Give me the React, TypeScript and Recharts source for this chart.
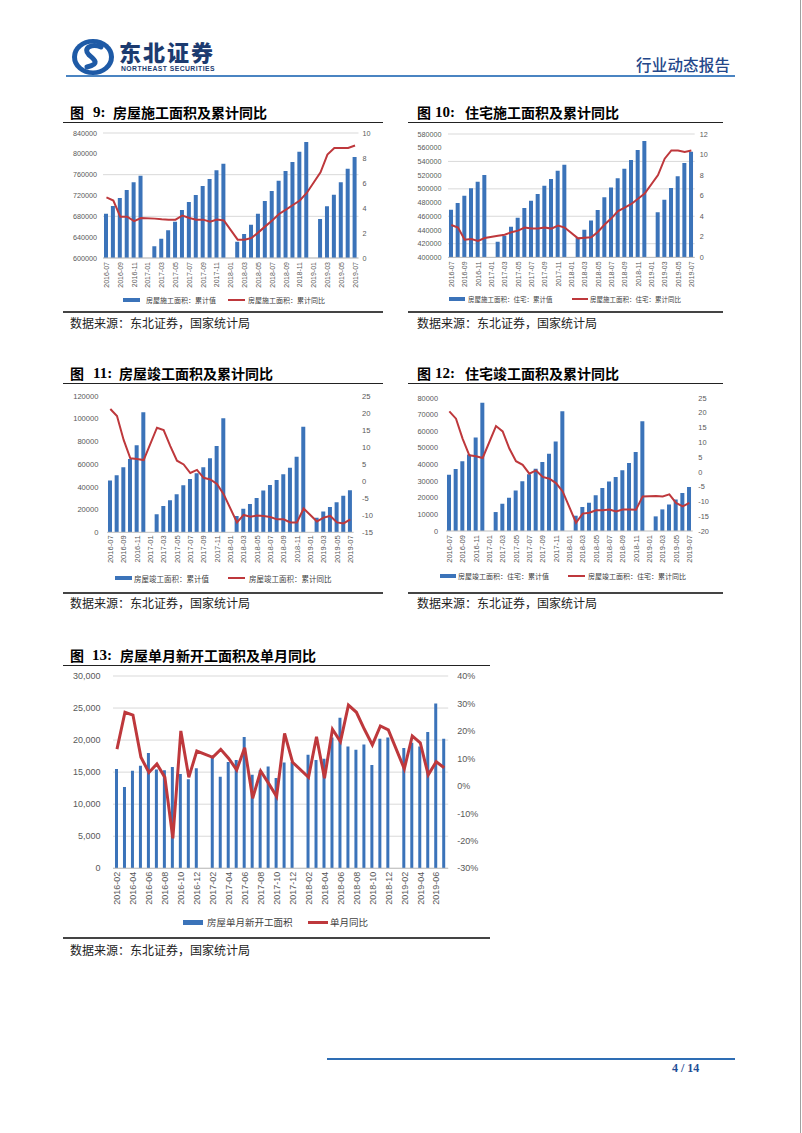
import React from 'react'
import { ComposedChart, Bar, Line, XAxis, YAxis, CartesianGrid } from 'recharts'

// month axis for the cumulative charts (fig 9-12)
const MONTHS_CUM = [
  '2016-07', '2016-08', '2016-09', '2016-10', '2016-11', '2016-12',
  '2017-01', '2017-02', '2017-03', '2017-04', '2017-05', '2017-06',
  '2017-07', '2017-08', '2017-09', '2017-10', '2017-11', '2017-12',
  '2018-01', '2018-02', '2018-03', '2018-04', '2018-05', '2018-06',
  '2018-07', '2018-08', '2018-09', '2018-10', '2018-11', '2018-12',
  '2019-01', '2019-02', '2019-03', '2019-04', '2019-05', '2019-06', '2019-07',
]

// fig 9: 房屋施工面积
const CONSTR_CUM = [
  685100, 699800, 715200, 730600, 745300, 758100,
  null, 622400, 637100, 653100, 669800, 692200,
  707500, 721000, 738200, 751700, 768300, 781100,
  null, 631400, 646100, 664000, 685100, 709400,
  728600, 748500, 767000, 784300, 804200, 822700,
  null, 674900, 699200, 721600, 745300, 771500, 793900,
]
const CONSTR_YOY = [
  4.85, 4.6, 3.3, 3.3, 2.95, 3.2,
  null, 3.15, 3.1, 3.07, 3.07, 3.4,
  3.2, 3.07, 3.07, 2.9, 3.07, 3.0,
  null, 1.47, 1.47, 1.6, 2.05, 2.53,
  3.0, 3.52, 3.87, 4.24, 4.6, 5.2,
  null, 6.85, 8.27, 8.8, 8.8, 8.8, 9.0,
]

// fig 10: 住宅施工面积
const RES_CONSTR_CUM = [
  469600, 479300, 490000, 500700, 510400, 520100,
  null, 422900, 431600, 444800, 457900, 472000,
  482700, 492400, 504600, 514300, 526500, 535200,
  null, 429000, 440400, 454000, 469100, 487600,
  501800, 515500, 529400, 542100, 556600, 569900,
  null, 465700, 484200, 501200, 518200, 537700, 554200,
]
const RES_CONSTR_YOY = [
  3.15, 2.9, 1.72, 1.78, 1.6, 1.88,
  null, 2.1, 2.2, 2.45, 2.6, 2.9,
  2.8, 2.8, 2.9, 2.8, 3.1, 2.9,
  null, 1.85, 1.9, 1.95, 2.5, 3.2,
  3.8, 4.5, 4.85, 5.2, 5.7, 6.2,
  null, 8.0, 9.6, 10.4, 10.4, 10.25, 10.4,
]

// fig 11: 房屋竣工面积
const COMPL_CUM = [
  45500, 50200, 57200, 64600, 76600, 105600,
  null, 15800, 23200, 28200, 33500, 41400,
  46900, 52000, 57200, 65100, 76000, 100400,
  null, 14400, 20800, 24900, 30200, 36700,
  41700, 46100, 51100, 56900, 66600, 93000,
  null, 12800, 18400, 22300, 26500, 32100, 37100,
]
const COMPL_YOY = [
  21.2, 19.1, 12.1, 6.7, 6.5, 6.2,
  null, 15.7, 15.0, 10.3, 6.0, 4.9,
  2.4, 3.3, 1.0, 0.5, -0.8, -3.8,
  null, -12.1, -9.9, -10.4, -10.1, -10.2,
  -10.5, -11.2, -11.2, -12.1, -12.1, -8.0,
  null, -11.8, -10.7, -10.2, -12.1, -12.4, -11.2,
]

// fig 12: 住宅竣工面积
const RES_COMPL_CUM = [
  33900, 37300, 41900, 46000, 56300, 77200,
  null, 11400, 16400, 20000, 24300, 29900,
  34100, 37500, 41500, 46500, 53900, 72000,
  null, 9200, 14400, 17000, 21500, 25900,
  29700, 32500, 36500, 40900, 47500, 66000,
  null, 8800, 13000, 16000, 19000, 22900, 26500,
]
const RES_COMPL_YOY = [
  20.5, 18.0, 11.2, 5.6, 5.3, 4.7,
  null, 15.5, 13.7, 7.9, 3.6, 2.4,
  -0.6, 0.5, -1.7, -2.3, -3.8, -6.6,
  null, -17.2, -14.1, -13.8, -13.0, -13.0,
  -12.7, -13.4, -12.7, -12.7, -12.8, -8.3,
  null, -8.2, -8.3, -7.6, -10.5, -11.7, -10.5,
]

// fig 13: monthly new starts
const MONTHS_NEW = [
  '2016-02', '2016-03', '2016-04', '2016-05', '2016-06', '2016-07', '2016-08',
  '2016-09', '2016-10', '2016-11', '2016-12',
  '2017-01', '2017-02', '2017-03', '2017-04', '2017-05', '2017-06', '2017-07',
  '2017-08', '2017-09', '2017-10', '2017-11', '2017-12',
  '2018-01', '2018-02', '2018-03', '2018-04', '2018-05', '2018-06', '2018-07',
  '2018-08', '2018-09', '2018-10', '2018-11', '2018-12',
  '2019-01', '2019-02', '2019-03', '2019-04', '2019-05', '2019-06', '2019-07',
]
const NEW_START = [
  15500, 12700, 15200, 16000, 18000, 15400, 15300, 15800, 14700, 13900, 15600,
  null, 17300, 14300, 16600, 16900, 20500, 14600, 15300, 15900, 14100, 16500, 16600,
  null, 17700, 16900, 17100, 20400, 23500, 19000, 18500, 19300, 16100, 20200, 20400,
  null, 18750, 19600, 19000, 21250, 25700, 20200,
]
const NEW_START_YOY = [
  13.4, 26.8, 25.8, 10.4, 4.9, 8.0, 3.1, -19.1, 20.0, 3.1, 12.7,
  null, 10.4, 13.3, 10.0, 5.8, 13.9, -4.5, 5.4, 0.9, -3.9, 19.1, 8.6,
  null, 3.1, 17.9, 2.8, 20.6, 16.1, 29.4, 26.8, 20.6, 14.9, 21.8, 20.4,
  null, 6.2, 18.2, 15.7, 4.0, 8.8, 6.6,
]

const BLUE = '#3B73B9'
const RED = '#BE383C'
const TXT = '#595959'
const CJK = '"Noto Sans CJK SC", "Noto Sans", sans-serif'
const NUM = '"Liberation Sans", Arial, sans-serif'
const SERIF = '"Liberation Serif", "DejaVu Serif", serif'

type Plot = { x0: number; x1: number; y0: number; y1: number }

function RotTick(props: any) {
  const { x, y, payload, fs } = props
  return (
    <g transform={`translate(${x},${y})`}>
      <text x={0} y={0} dy={fs * 0.36} textAnchor="end" transform="rotate(-90)" fontSize={fs} fill={TXT} fontFamily={NUM}>
        {payload.value}
      </text>
    </g>
  )
}

interface PanelProps {
  plot: Plot
  cats: string[]
  bars: (number | null)[]
  line: (number | null)[]
  leftDomain: [number, number]
  leftTicks: number[]
  rightDomain: [number, number]
  rightTicks: number[]
  leftFmt?: (v: number) => string
  rightFmt?: (v: number) => string
  grid: boolean
  barSize: number
  lineWidth: number
  fs: number
  xfs: number
  lGap: number
  rGap: number
  xGap: number
}

function Panel(p: PanelProps) {
  const LW = 60
  const RW = 50
  const TOP = 10
  const XH = 50
  const data = p.cats.map((c, i) => ({ month: c, bar: p.bars[i], yoy: p.line[i] }))
  const width = p.plot.x1 - p.plot.x0 + LW + RW
  const height = p.plot.y1 - p.plot.y0 + TOP + XH
  return (
    <div style={{ position: 'absolute', left: p.plot.x0 - LW, top: p.plot.y0 - TOP }}>
      <ComposedChart width={width} height={height} data={data} margin={{ top: TOP, right: 0, bottom: 0, left: 0 }}>
        {p.grid && <CartesianGrid yAxisId="left" vertical={false} stroke="#D9D9D9" />}
        <XAxis
          dataKey="month"
          interval={1}
          tickLine={false}
          tickSize={0}
          tickMargin={p.xGap}
          height={XH}
          axisLine={{ stroke: '#BFBFBF' }}
          tick={(t: any) => <RotTick {...t} fs={p.xfs} />}
        />
        <YAxis
          yAxisId="left"
          orientation="left"
          width={LW}
          domain={p.leftDomain}
          ticks={p.leftTicks}
          allowDataOverflow
          tickFormatter={p.leftFmt}
          axisLine={false}
          tickLine={false}
          tickSize={p.lGap}
          tickMargin={0}
          tick={{ fontSize: p.fs, fill: TXT, fontFamily: NUM }}
        />
        <YAxis
          yAxisId="right"
          orientation="right"
          width={RW}
          domain={p.rightDomain}
          ticks={p.rightTicks}
          allowDataOverflow
          tickFormatter={p.rightFmt}
          axisLine={false}
          tickLine={false}
          tickSize={p.rGap}
          tickMargin={0}
          tick={{ fontSize: p.fs, fill: TXT, fontFamily: NUM, textAnchor: 'start' }}
        />
        <Bar yAxisId="left" dataKey="bar" fill={BLUE} barSize={p.barSize} isAnimationActive={false} />
        <Line
          yAxisId="right"
          dataKey="yoy"
          type="linear"
          stroke={RED}
          strokeWidth={p.lineWidth}
          dot={false}
          activeDot={false}
          connectNulls
          isAnimationActive={false}
        />
      </ComposedChart>
    </div>
  )
}

// figure title: "图", number and caption placed separately to keep the wide spacing of the original
function Title({ x, y, num, numDx, textDx, text }: { x: number; y: number; num: string; numDx: number; textDx: number; text: string }) {
  const base: React.CSSProperties = {
    position: 'absolute', top: y - 10, height: 20, lineHeight: '20px', whiteSpace: 'pre',
    fontWeight: 700, fontSize: 14, color: '#000',
  }
  return (
    <>
      <div style={{ ...base, left: x, fontFamily: CJK }}>图</div>
      <div style={{ ...base, left: x + numDx, fontFamily: SERIF, fontSize: 15 }}>{`${num}:`}</div>
      <div style={{ ...base, left: x + textDx, fontFamily: CJK }}>{text}</div>
    </>
  )
}

function HLine({ x0, x1, y, w, color }: { x0: number; x1: number; y: number; w: number; color: string }) {
  return <div style={{ position: 'absolute', left: x0, top: y - w / 2, width: x1 - x0, height: w, background: color }} />
}

function Source({ x, y }: { x: number; y: number }) {
  return (
    <div style={{ position: 'absolute', left: x, top: y - 9, height: 18, lineHeight: '18px', fontFamily: CJK, fontSize: 12, color: '#222', whiteSpace: 'pre' }}>
      数据来源：东北证券，国家统计局
    </div>
  )
}

interface LegendItem { kind: 'bar' | 'line'; sx: number; sw: number; tx: number; label: string }

function Legend2({ y, fs, items, thick }: { y: number; fs: number; items: LegendItem[]; thick: [number, number] }) {
  return (
    <>
      {items.map((it) => (
        <React.Fragment key={it.label}>
          <div
            style={{
              position: 'absolute', left: it.sx, width: it.sw,
              top: y - (it.kind === 'bar' ? thick[0] : thick[1]) / 2,
              height: it.kind === 'bar' ? thick[0] : thick[1],
              background: it.kind === 'bar' ? BLUE : RED,
            }}
          />
          <div
            style={{
              position: 'absolute', left: it.tx, top: y - fs, height: fs * 2, lineHeight: `${fs * 2}px`,
              fontFamily: CJK, fontSize: fs, color: '#404040', whiteSpace: 'pre',
            }}
          >
            {it.label}
          </div>
        </React.Fragment>
      ))}
    </>
  )
}

function Logo() {
  return (
    <svg style={{ position: 'absolute', left: 70, top: 37 }} width={46} height={40} viewBox="0 0 46 40">
      <ellipse cx={23} cy={20} rx={21} ry={18} fill="#1E5AA6" />
      <ellipse cx={23} cy={20} rx={16} ry={13.5} fill="#fff" />
      <path d="M31 10 C 22 6, 12 11, 19 18 C 25 23, 30 27, 17 30" stroke="#1E5AA6" strokeWidth={5} fill="none" strokeLinecap="round" />
    </svg>
  )
}

const range = (a: number, b: number, s: number) => {
  const out: number[] = []
  for (let v = a; v <= b + 1e-9; v += s) out.push(v)
  return out
}

export default function App() {
  return (
    <div style={{ position: 'absolute', left: 0, top: 0, width: 802, height: 1133, background: '#fff', overflow: 'hidden' }}>
      {/* header */}
      <Logo />
      <div style={{ position: 'absolute', left: 119, top: 40, fontFamily: CJK, fontWeight: 900, fontSize: 22, lineHeight: '22px', letterSpacing: 2, color: '#1C3B70' }}>
        东北证券
      </div>
      <div style={{ position: 'absolute', left: 121, top: 65, fontFamily: NUM, fontWeight: 700, fontSize: 6.8, lineHeight: '8px', letterSpacing: 0.45, color: '#1C3B70' }}>
        NORTHEAST SECURITIES
      </div>
      <div style={{ position: 'absolute', left: 636, top: 54, fontFamily: CJK, fontWeight: 500, fontSize: 15.5, lineHeight: '20px', color: '#24478A', letterSpacing: 0.2 }}>
        行业动态报告
      </div>
      <HLine x0={66} x1={735} y={75.5} w={2} color="#4A84C2" />
      <div style={{ position: 'absolute', left: 800, top: 0, width: 1, height: 1133, background: '#A0A0A0' }} />

      {/* fig 9 */}
      <Title x={70} y={112} num="9" numDx={23} textDx={43} text="房屋施工面积及累计同比" />
      <HLine x0={63} x1={383} y={122.7} w={1.5} color="#222" />
      <Panel
        plot={{ x0: 103, x1: 358.5, y0: 133, y1: 258 }}
        cats={MONTHS_CUM} bars={CONSTR_CUM} line={CONSTR_YOY}
        leftDomain={[600000, 840000]} leftTicks={range(600000, 840000, 40000)}
        rightDomain={[0, 10]} rightTicks={range(0, 10, 1)}
        grid barSize={4} lineWidth={2} fs={7.2} xfs={7} lGap={6} rGap={4} xGap={4}
      />
      <Legend2
        y={300} fs={7} thick={[4, 2]}
        items={[
          { kind: 'bar', sx: 123, sw: 17, tx: 146, label: '房屋施工面积：累计值' },
          { kind: 'line', sx: 228, sw: 17, tx: 248, label: '房屋施工面积：累计同比' },
        ]}
      />
      <HLine x0={63} x1={383} y={312} w={1.2} color="#444" />
      <Source x={70} y={323} />

      {/* fig 10 */}
      <Title x={417} y={112} num="10" numDx={18} textDx={48} text="住宅施工面积及累计同比" />
      <HLine x0={408} x1={723} y={122.7} w={1.5} color="#222" />
      <Panel
        plot={{ x0: 448.3, x1: 695, y0: 134.3, y1: 257.7 }}
        cats={MONTHS_CUM} bars={RES_CONSTR_CUM} line={RES_CONSTR_YOY}
        leftDomain={[400000, 580000]} leftTicks={range(400000, 580000, 20000)}
        rightDomain={[0, 12]} rightTicks={range(0, 12, 2)}
        grid barSize={4} lineWidth={2} fs={7.2} xfs={7} lGap={6.5} rGap={5} xGap={4}
      />
      <Legend2
        y={299} fs={6.5} thick={[4, 2]}
        items={[
          { kind: 'bar', sx: 449, sw: 16, tx: 468, label: '房屋施工面积：住宅：累计值' },
          { kind: 'line', sx: 572, sw: 16, tx: 590, label: '房屋施工面积：住宅：累计同比' },
        ]}
      />
      <HLine x0={408} x1={723} y={312} w={1.2} color="#444" />
      <Source x={417} y={323} />

      {/* fig 11 */}
      <Title x={70} y={373} num="11" numDx={23} textDx={49} text="房屋竣工面积及累计同比" />
      <HLine x0={63} x1={383} y={383.5} w={1.5} color="#222" />
      <Panel
        plot={{ x0: 106.7, x1: 353.3, y0: 396, y1: 532.3 }}
        cats={MONTHS_CUM} bars={COMPL_CUM} line={COMPL_YOY}
        leftDomain={[0, 120000]} leftTicks={range(0, 120000, 20000)}
        rightDomain={[-15, 25]} rightTicks={range(-15, 25, 5)}
        grid={false} barSize={4} lineWidth={2} fs={7.6} xfs={7.6} lGap={8.5} rGap={8.5} xGap={3}
      />
      <Legend2
        y={578} fs={7.5} thick={[4, 2]}
        items={[
          { kind: 'bar', sx: 115, sw: 17, tx: 134, label: '房屋竣工面积：累计值' },
          { kind: 'line', sx: 228, sw: 17, tx: 249, label: '房屋竣工面积：累计同比' },
        ]}
      />
      <HLine x0={63} x1={383} y={593} w={1.2} color="#444" />
      <Source x={70} y={603} />

      {/* fig 12 */}
      <Title x={417} y={373} num="12" numDx={18} textDx={48} text="住宅竣工面积及累计同比" />
      <HLine x0={408} x1={723} y={383.5} w={1.5} color="#222" />
      <Panel
        plot={{ x0: 446, x1: 692.7, y0: 397.7, y1: 530.7 }}
        cats={MONTHS_CUM} bars={RES_COMPL_CUM} line={RES_COMPL_YOY}
        leftDomain={[0, 80000]} leftTicks={range(0, 80000, 10000)}
        rightDomain={[-20, 25]} rightTicks={range(-20, 25, 5)}
        grid={false} barSize={4} lineWidth={2} fs={7.4} xfs={7.6} lGap={8} rGap={5.6} xGap={4}
      />
      <Legend2
        y={576} fs={7} thick={[4, 2]}
        items={[
          { kind: 'bar', sx: 440, sw: 16, tx: 458, label: '房屋竣工面积：住宅：累计值' },
          { kind: 'line', sx: 568, sw: 17, tx: 588, label: '房屋竣工面积：住宅：累计同比' },
        ]}
      />
      <HLine x0={408} x1={723} y={593} w={1.2} color="#444" />
      <Source x={417} y={603} />

      {/* fig 13 */}
      <Title x={70} y={655} num="13" numDx={22} textDx={50} text="房屋单月新开工面积及单月同比" />
      <HLine x0={63} x1={490} y={665.5} w={1.5} color="#222" />
      <Panel
        plot={{ x0: 112.7, x1: 447.9, y0: 676, y1: 868.3 }}
        cats={MONTHS_NEW} bars={NEW_START} line={NEW_START_YOY}
        leftDomain={[0, 30000]} leftTicks={range(0, 30000, 5000)}
        rightDomain={[-30, 40]} rightTicks={range(-30, 40, 10)}
        leftFmt={(v) => v.toLocaleString('en-US')}
        rightFmt={(v) => `${v}%`}
        grid barSize={3} lineWidth={3} fs={9} xfs={9} lGap={12.5} rGap={9} xGap={3.5}
      />
      <Legend2
        y={922} fs={9.5} thick={[5, 3]}
        items={[
          { kind: 'bar', sx: 183, sw: 20, tx: 207, label: '房屋单月新开工面积' },
          { kind: 'line', sx: 308, sw: 20, tx: 330, label: '单月同比' },
        ]}
      />
      <HLine x0={63} x1={490} y={938} w={1.2} color="#444" />
      <Source x={70} y={950} />

      {/* footer */}
      <HLine x0={327} x1={735} y={1059} w={2} color="#2E6DB4" />
      <div style={{ position: 'absolute', left: 672, top: 1061, fontFamily: SERIF, fontWeight: 700, fontSize: 12, lineHeight: '14px', color: '#1F4E96' }}>
        4 / 14
      </div>
    </div>
  )
}
